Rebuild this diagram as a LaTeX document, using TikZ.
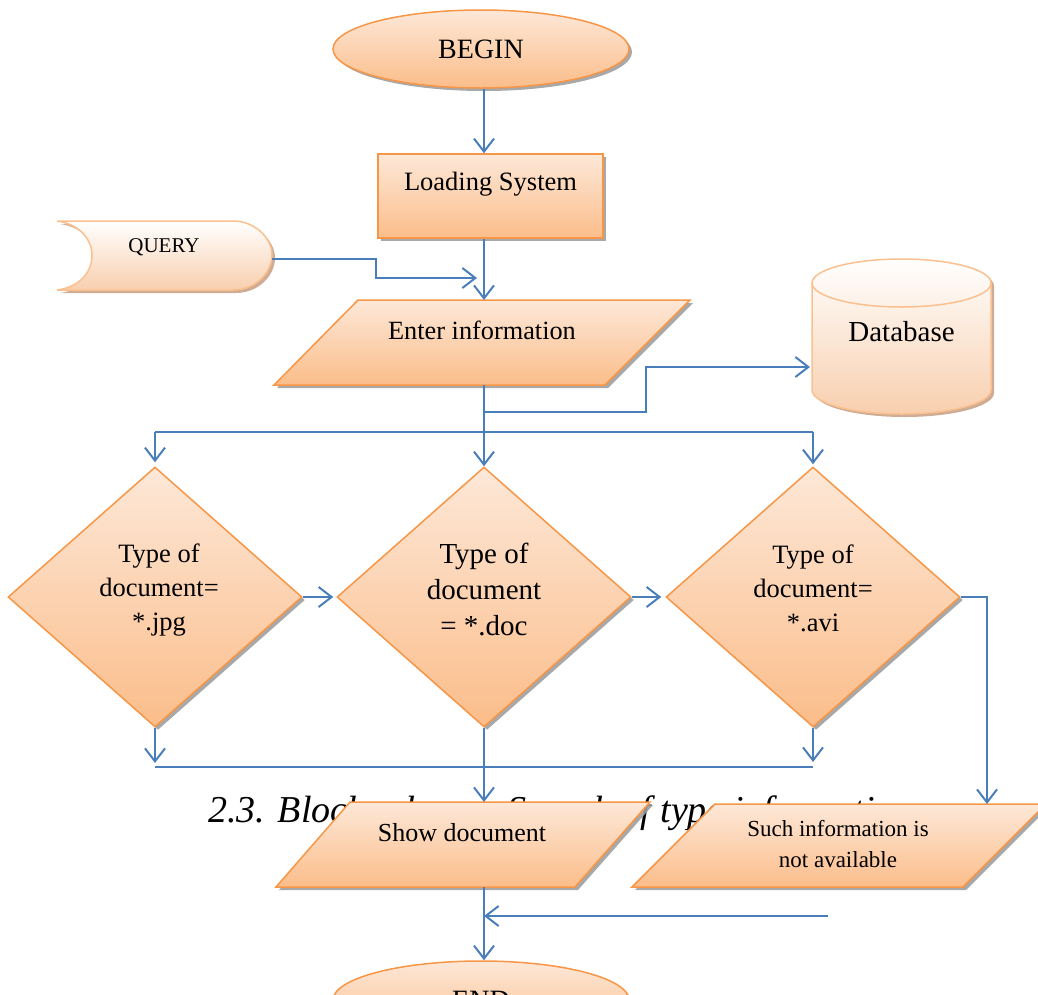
\documentclass[tikz,border=0pt]{standalone}
\usepackage{fontspec}
\setmainfont{Liberation Serif}
\usetikzlibrary{shapes.geometric,shadows,arrows.meta}

\definecolor{edgeor}{HTML}{F79646}
\definecolor{fillhi}{HTML}{FDE8D8}
\definecolor{filllo}{HTML}{FBBD8A}
\definecolor{paleedge}{HTML}{FAC090}
\definecolor{palelo}{HTML}{F8CFAE}
\definecolor{flowblue}{HTML}{4A7EBB}
\definecolor{shadowgray}{HTML}{9E9E9E}
\definecolor{shadowtan}{HTML}{C9A488}

\newcommand\fsz[2]{\fontsize{#1}{#2}\selectfont}

\begin{document}
\begin{tikzpicture}[x=1pt,y=-1pt,
  box/.style={draw=edgeor, line width=1.5pt, top color=fillhi, bottom color=filllo,
    drop shadow={shadow xshift=3pt, shadow yshift=-3pt, fill=shadowgray, opacity=0.9}},
  palebox/.style={draw=paleedge, line width=1.5pt, top color=white, bottom color=palelo,
    drop shadow={shadow xshift=3pt, shadow yshift=-3pt, fill=shadowtan, opacity=0.9}},
  arr/.style={draw=flowblue, line width=2pt, -{Straight Barb[length=13pt,width=20pt]}},
  link/.style={draw=flowblue, line width=1.6pt},
  lbl/.style={inner sep=0pt, align=center, text=black},
]
\useasboundingbox (0,0) rectangle (1038,994);
\coordinate (colx) at (484,0);

% figure caption, lying underneath the lower boxes
\node[lbl, anchor=base west, font=\fsz{38}{44}\itshape] (caption) at (208,822)
  {2.3. Block scheme. Search of type information};

% start terminal
\node[box, ellipse, minimum width=296pt, minimum height=78pt, inner sep=0pt,
  font=\fsz{28}{32}] (begin) at (481,49) {BEGIN};

% process box
\node[box, rectangle, minimum width=225pt, minimum height=84pt, inner sep=0pt] (load) at (490.5,196) {};
\node[lbl, font=\fsz{26.5}{30}] (loadtxt) at (490.5,184) {Loading System};

% stored query
\path[palebox] (57,221) -- (233,221)
  .. controls (255,221) and (272,238) .. (272,255)
  .. controls (272,273) and (255,290) .. (233,290)
  -- (57,290)
  .. controls (80,287) and (92,272) .. (92,255)
  .. controls (92,240) and (80,224) .. (57,221) -- cycle;
\node[lbl, font=\fsz{21}{24}] (query) at (164,247) {QUERY};
\coordinate (query-e) at (272,259);
\coordinate (qin) at (477,278);

% input parallelogram
\path[box] (358,300) -- (690,300) -- (605,385) -- (274,385) -- cycle;
\node[lbl, font=\fsz{26.3}{30}] (enter) at (482,330) {Enter information};
\coordinate (enter-t) at (484,300);
\coordinate (enter-b) at (484,385);

% database cylinder
\path[palebox] (812,283) -- (812,390)
  .. controls (812,403.25) and (852.1,414) .. (901.5,414)
  .. controls (950.9,414) and (991,403.25) .. (991,390)
  -- (991,283)
  .. controls (991,269.75) and (950.9,259) .. (901.5,259)
  .. controls (852.1,259) and (812,269.75) .. (812,283) -- cycle;
\draw[paleedge, line width=1.5pt] (812,283)
  .. controls (812,296.25) and (852.1,307) .. (901.5,307)
  .. controls (950.9,307) and (991,296.25) .. (991,283);
\node[lbl, font=\fsz{29}{32}] (db) at (901.5,332) {Database};
\coordinate (db-w) at (810,367);

% decisions
\node[box, diamond, minimum width=294pt, minimum height=260pt, inner sep=0pt] (d1) at (155,597) {};
\node[box, diamond, minimum width=294pt, minimum height=260pt, inner sep=0pt] (d2) at (484,597) {};
\node[box, diamond, minimum width=294pt, minimum height=260pt, inner sep=0pt] (d3) at (813,597) {};
\node[lbl, font=\fsz{26.5}{34}] (d1txt) at (159,590) {Type of\\document=\\*.jpg};
\node[lbl, font=\fsz{29}{36}] (d2txt) at (484,589) {Type of\\document\\= *.doc};
\node[lbl, font=\fsz{26.5}{34}] (d3txt) at (813,588) {Type of\\document=\\*.avi};

% outputs
\path[box] (350,802) -- (650,802) -- (575,887) -- (276,887) -- cycle;
\node[lbl, font=\fsz{26}{30}] (show) at (462,833) {Show document};
\coordinate (show-t) at (484,802);
\coordinate (show-b) at (484,887);

\path[box] (715,804) -- (1046,804) -- (963,887) -- (632,887) -- cycle;
\node[lbl, font=\fsz{23}{31}] (nofile) at (838,844) {Such information is\\not available};
\coordinate (nofile-t) at (987,804);
\coordinate (rin) at (828,916);

% end terminal
\node[box, ellipse, minimum width=296pt, minimum height=78pt, inner sep=0pt,
  font=\fsz{28}{32}] (end) at (481,1000) {END};

% connectors
\draw[arr] (begin.south -| colx) -- (load.north -| colx);
\draw[arr] (load.south -| colx) -- (enter-t);
\draw[arr] (query-e) -- ++(104,0) |- (qin);
\draw[arr] (enter-b) -- ++(0,27) -- ++(162,0) |- (db-w);
\draw[arr] (enter-b) -- (d2.north);

\coordinate (split) at (0,432);
\draw[link] (d1.north |- split) -- (d3.north |- split);
\draw[arr] (d1.north |- split) -- ([yshift=4pt]d1.north);
\draw[arr] (d3.north |- split) -- ([yshift=2pt]d3.north);

\draw[arr] (d1.east) -- ([xshift=-3pt]d2.west);
\draw[arr] (d2.east) -- ([xshift=-4pt]d3.west);
\draw[arr] (d3.east) -| (nofile-t);

\coordinate (merge) at (0,767);
\draw[link] (d1.south |- merge) -- (d3.south |- merge);
\draw[arr] (d1.south) -- ([yshift=4pt]d1.south |- merge);
\draw[arr] (d3.south) -- ([yshift=5pt]d3.south |- merge);
\draw[arr] (d2.south) -- (show-t);

\draw[arr] (rin) -- (rin -| colx);
\draw[arr] (show-b) -- (end.north -| colx);
\end{tikzpicture}
\end{document}
